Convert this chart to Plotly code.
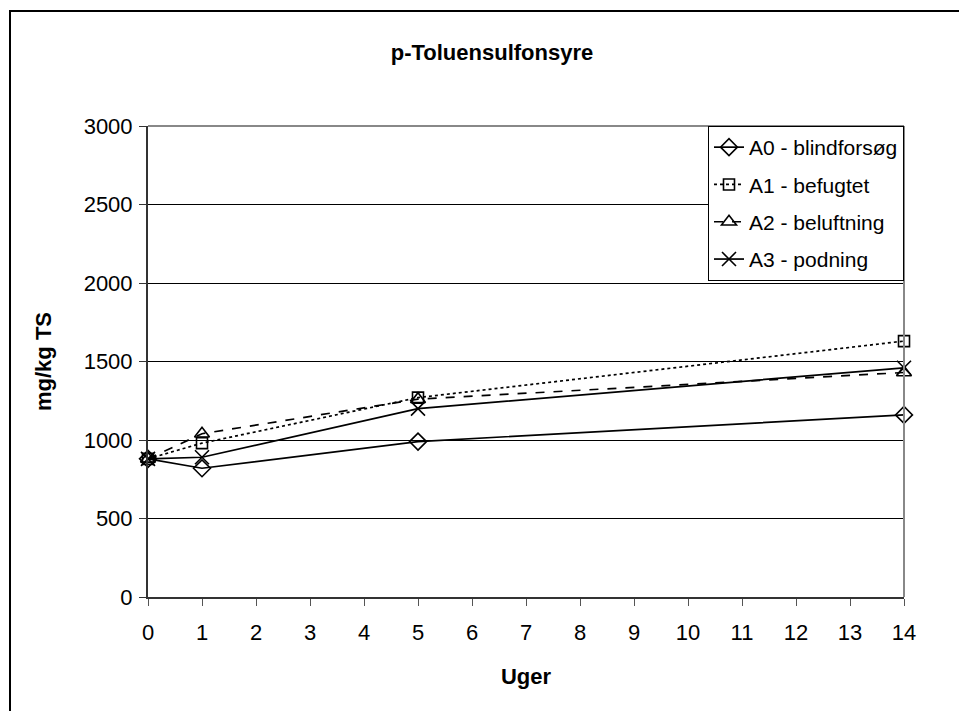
import plotly.graph_objects as go

# Sampling times (weeks) and measured concentrations (mg/kg TS)
weeks = [0, 1, 5, 14]
a0_blind = [880, 820, 990, 1160]
a1_befugtet = [880, 980, 1270, 1630]
a2_beluftning = [880, 1040, 1260, 1430]
a3_podning = [880, 890, 1200, 1460]

series_names = ["A0 - blindforsøg", "A1 - befugtet", "A2 - beluftning", "A3 - podning"]
x_ticks = list(range(0, 15))
y_ticks = [0, 500, 1000, 1500, 2000, 2500, 3000]

W, H = 959, 711
L, R, T, B = 148, 904, 126, 597

styles = [
    dict(dash="solid", symbol="diamond-open", size=13),
    dict(dash="dot", symbol="square-open", size=11),
    dict(dash="dash", symbol="triangle-up-open", size=13),
    dict(dash="solid", symbol="x-thin-open", size=14),
]

fig = go.Figure()
for i, (name, vals, st) in enumerate(zip(series_names,
                                         [a0_blind, a1_befugtet, a2_beluftning, a3_podning],
                                         styles)):
    fig.add_trace(go.Scatter(
        x=weeks, y=vals, name=name, mode="lines+markers", legendgroup=f"g{i}",
        line=dict(color="black", width=1.7, dash=st["dash"]),
        marker=dict(symbol=st["symbol"], size=st["size"], color="black",
                    line=dict(color="black", width=1.6)),
        cliponaxis=False,
    ))

fig.update_layout(
    width=W, height=H,
    margin=dict(l=L, r=W - R, t=T, b=H - B, autoexpand=False),
    paper_bgcolor="white", plot_bgcolor="white",
    font=dict(family="Arial, Liberation Sans, sans-serif", size=22, color="black"),
    title=dict(text="<b>p-Toluensulfonsyre</b>", xref="container", x=492 / W,
               xanchor="center", y=1 - 52 / H, yanchor="middle", font=dict(size=22)),
    xaxis=dict(
        range=[0, 14], tickmode="array", tickvals=x_ticks,
        ticks="outside", ticklen=7, tickcolor="#555", tickwidth=1,
        ticklabelstandoff=8,
        showline=True, linecolor="#333", linewidth=2,
        showgrid=False, zeroline=False,
        tickfont=dict(size=22),
        title=dict(text="<b>Uger</b>", font=dict(size=22), standoff=24),
    ),
    yaxis=dict(
        range=[0, 3000], tickmode="array", tickvals=y_ticks,
        ticks="outside", ticklen=7, tickcolor="#333", tickwidth=1,
        ticklabelstandoff=2,
        showline=True, linecolor="#333", linewidth=2,
        showgrid=True, gridcolor="black", gridwidth=1,
        zeroline=False,
        tickfont=dict(size=22),
        title=dict(text="<b>mg/kg TS</b>", font=dict(size=22), standoff=26),
    ),
    legend=dict(
        x=1, xanchor="right", y=1, yanchor="top",
        bordercolor="black", borderwidth=1, bgcolor="white",
        font=dict(size=21), tracegroupgap=7,
    ),
    showlegend=True,
)

# Grey plot-area frame on the top and right
fig.add_shape(type="line", xref="paper", yref="paper", x0=0, x1=1, y0=1, y1=1,
              line=dict(color="#888", width=2))
fig.add_shape(type="line", xref="paper", yref="paper", x0=1, x1=1, y0=0, y1=1,
              line=dict(color="#888", width=2))

# Outer chart frame
plot_w = R - L
plot_h = B - T

def to_paper_x(px):
    return (px - L) / plot_w

def to_paper_y(py):
    return (B - py) / plot_h

fig.add_shape(type="rect", xref="paper", yref="paper",
              x0=to_paper_x(10), x1=to_paper_x(970),
              y0=to_paper_y(720), y1=to_paper_y(11),
              line=dict(color="black", width=2), layer="below")

fig.write_html("out.html")
